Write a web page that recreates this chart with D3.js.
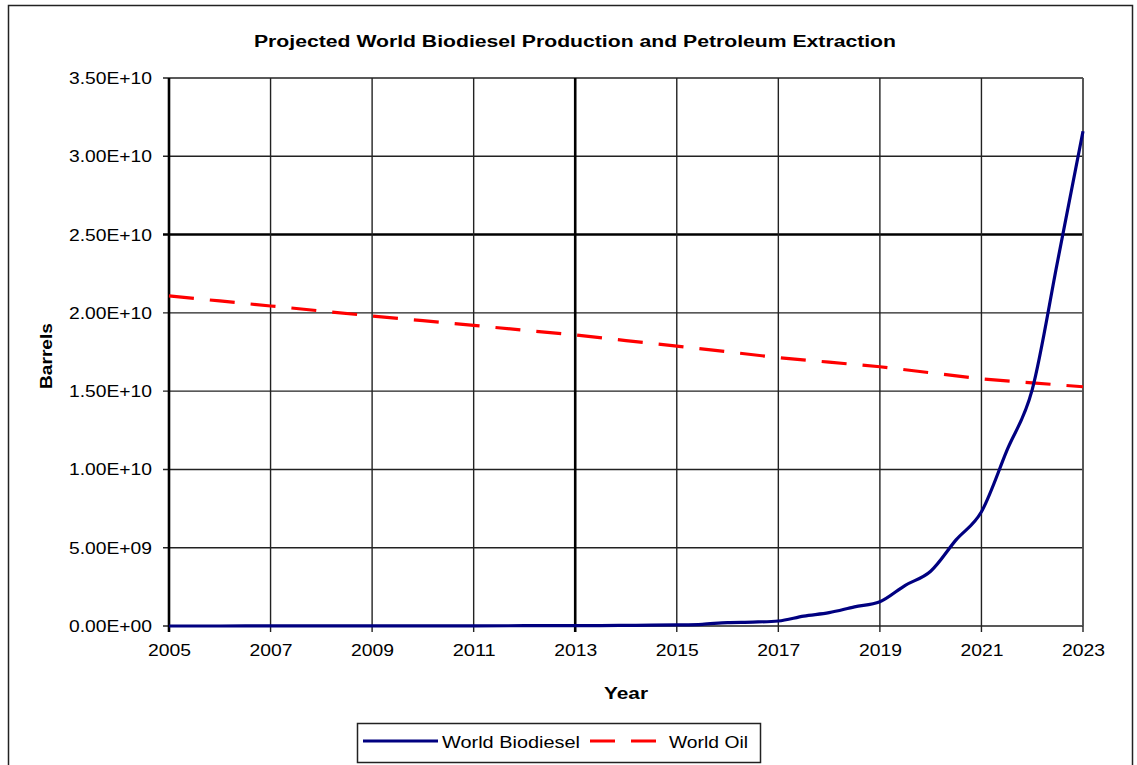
<!DOCTYPE html>
<html>
<head>
<meta charset="utf-8">
<script src="https://cdn.jsdelivr.net/npm/d3@7"></script>
<style>
  html, body { margin: 0; padding: 0; background: #fff; }
  svg { display: block; }
  text { font-family: "Liberation Sans", Arial, sans-serif; fill: #000; }
</style>
</head>
<body>
<svg id="chart" width="1137" height="765"></svg>
<script>
// ---- data ----
const oilYears = [2005,2006,2007,2008,2009,2010,2011,2012,2013,2014,2015,2016,2017,2018,2019,2020,2021,2022,2023];
const worldOil = [2.108e10,2.076e10,2.044e10,2.012e10,1.980e10,1.950e10,1.920e10,1.889e10,1.859e10,1.823e10,1.788e10,1.751e10,1.714e10,1.685e10,1.656e10,1.617e10,1.578e10,1.553e10,1.528e10];

const bioYears = [2005,2006,2007,2008,2009,2010,2011,2012,2013,2013.5,2014,2014.5,2015,2015.5,2016,2016.5,2017,2017.5,2018,2018.5,2019,2019.5,2020,2020.5,2021,2021.5,2022,2022.5,2023];
const worldBiodiesel = [1e6,1.5e6,2.5e6,4e6,6e6,9e6,1.3e7,1.8e7,2.5e7,3e7,4e7,5e7,7e7,1.1e8,2.2e8,2.5e8,3.2e8,6.3e8,8.5e8,1.22e9,1.55e9,2.6e9,3.5e9,5.5e9,7.3e9,1.12e10,1.51e10,2.33e10,3.16e10];

const yTicks = [0,5e9,1e10,1.5e10,2e10,2.5e10,3e10,3.5e10];
const yTickLabels = ["0.00E+00","5.00E+09","1.00E+10","1.50E+10","2.00E+10","2.50E+10","3.00E+10","3.50E+10"];
const xTicks = [2005,2007,2009,2011,2013,2015,2017,2019,2021,2023];
const xTickLabels = ["2005","2007","2009","2011","2013","2015","2017","2019","2021","2023"];
const seriesNames = ["World Biodiesel","World Oil"];
const titleText = "Projected World Biodiesel Production and Petroleum Extraction";

// ---- layout ----
const svg = d3.select("#chart");
const L = 169, R = 1083, T = 78, B = 626;
const x = d3.scaleLinear().domain([2005, 2023]).range([L, R]);
const y = d3.scaleLinear().domain([0, 3.5e10]).range([B, T]);

// outer frame
svg.append("rect").attr("x", 8.5).attr("y", 5.5).attr("width", 1124).attr("height", 770)
  .attr("fill", "none").attr("stroke", "#222").attr("stroke-width", 1.5);

// title
svg.append("text").attr("x", 575).attr("y", 47).attr("text-anchor", "middle")
  .attr("font-size", 16).attr("font-weight", "bold").attr("textLength", 642)
  .attr("lengthAdjust", "spacingAndGlyphs").text(titleText);

// grid
const grid = svg.append("g");
yTicks.forEach(v => {
  grid.append("line").attr("x1", L - 6).attr("x2", R).attr("y1", y(v)).attr("y2", y(v))
    .attr("stroke", v === 2.5e10 ? "#000" : "#222").attr("stroke-width", v === 2.5e10 ? 2.6 : 1.4);
});
xTicks.forEach(v => {
  grid.append("line").attr("x1", x(v)).attr("x2", x(v)).attr("y1", T).attr("y2", B + 6)
    .attr("stroke", (v === 2013 || v === 2005) ? "#000" : "#222")
    .attr("stroke-width", (v === 2013 || v === 2005) ? 2.6 : 1.4);
});
// right border gray
svg.append("line").attr("x1", R).attr("x2", R).attr("y1", T).attr("y2", B)
  .attr("stroke", "#555").attr("stroke-width", 1.6);

// axes labels via d3 axis
const yAxis = d3.axisLeft(y).tickValues(yTicks).tickFormat((d, i) => yTickLabels[i]).tickSize(0).tickPadding(17);
const gy = svg.append("g").attr("transform", `translate(${L},0)`).call(yAxis);
gy.select(".domain").remove();
gy.selectAll("text").attr("font-size", 17).attr("font-family", "Liberation Sans, Arial, sans-serif").attr("fill", "#000")
  .attr("textLength", 83).attr("lengthAdjust", "spacingAndGlyphs");

const xAxis = d3.axisBottom(x).tickValues(xTicks).tickFormat((d, i) => xTickLabels[i]).tickSize(0).tickPadding(18);
const gx = svg.append("g").attr("transform", `translate(0,${B})`).call(xAxis);
gx.select(".domain").remove();
gx.selectAll("text").attr("font-size", 17).attr("font-family", "Liberation Sans, Arial, sans-serif").attr("fill", "#000")
  .attr("textLength", 43).attr("lengthAdjust", "spacingAndGlyphs");

// axis titles
svg.append("text").attr("transform", `translate(52,${(T + B) / 2 + 4}) rotate(-90)`)
  .attr("text-anchor", "middle").attr("font-size", 17).attr("font-weight", "bold")
  .attr("textLength", 66).attr("lengthAdjust", "spacingAndGlyphs").text("Barrels");
svg.append("text").attr("x", (L + R) / 2).attr("y", 699).attr("text-anchor", "middle")
  .attr("font-size", 17).attr("font-weight", "bold")
  .attr("textLength", 44).attr("lengthAdjust", "spacingAndGlyphs").text("Year");

// lines
const line = d3.line().x(d => x(d[0])).y(d => y(d[1]));
const smooth = d3.line().x(d => x(d[0])).y(d => y(d[1])).curve(d3.curveMonotoneX);
svg.append("path").datum(oilYears.map((yr, i) => [yr, worldOil[i]]))
  .attr("d", line).attr("fill", "none").attr("stroke", "#ff0000")
  .attr("stroke-width", 3.2).attr("stroke-dasharray", "25,16");
svg.append("path").datum(bioYears.map((yr, i) => [yr, worldBiodiesel[i]]))
  .attr("d", smooth).attr("fill", "none").attr("stroke", "#000080")
  .attr("stroke-width", 3.2).attr("stroke-linejoin", "round");

// legend
const lg = svg.append("g");
lg.append("rect").attr("x", 357.5).attr("y", 723.5).attr("width", 403).attr("height", 39)
  .attr("fill", "#fff").attr("stroke", "#222").attr("stroke-width", 1.5);
lg.append("line").attr("x1", 363).attr("x2", 438).attr("y1", 741).attr("y2", 741)
  .attr("stroke", "#000080").attr("stroke-width", 3.2);
lg.append("text").attr("x", 442).attr("y", 748).attr("font-size", 17)
  .attr("textLength", 138).attr("lengthAdjust", "spacingAndGlyphs").text(seriesNames[0]);
lg.append("line").attr("x1", 590).attr("x2", 656).attr("y1", 741).attr("y2", 741)
  .attr("stroke", "#ff0000").attr("stroke-width", 3.2).attr("stroke-dasharray", "25,16");
lg.append("text").attr("x", 669).attr("y", 748).attr("font-size", 17)
  .attr("textLength", 79).attr("lengthAdjust", "spacingAndGlyphs").text(seriesNames[1]);
</script>
</body>
</html>
